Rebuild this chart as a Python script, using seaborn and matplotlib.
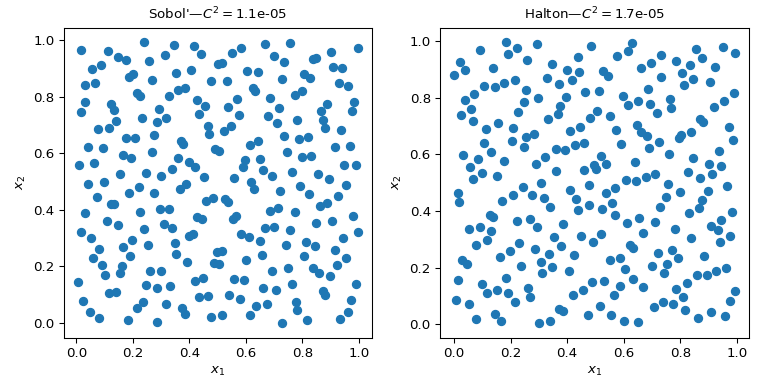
import matplotlib
matplotlib.use("Agg")
import matplotlib.pyplot as plt
import seaborn as sns

# ── Data ──────────────────────────────────────────────────────────────────────
sobol_x = [
    0.015, 0.111, 0.241, 0.312, 0.148, 0.175, 0.258, 0.054, 0.086, 0.185,
    0.202, 0.269, 0.032, 0.065, 0.213, 0.225, 0.029, 0.121, 0.132, 0.018,
    0.293, 0.231, 0.318, 0.140, 0.286, 0.075, 0.114, 0.174, 0.207, 0.276,
    0.040, 0.095, 0.266, 0.164, 0.194, 0.009, 0.061, 0.155, 0.247, 0.301,
    0.041, 0.099, 0.220,
    0.344, 0.415, 0.442, 0.552, 0.584, 0.668, 0.501, 0.515, 0.354, 0.407,
    0.605, 0.644, 0.478, 0.534, 0.326, 0.361, 0.386, 0.624, 0.633, 0.428,
    0.456, 0.538, 0.569, 0.435, 0.576, 0.464, 0.471, 0.524, 0.546, 0.371,
    0.379, 0.615, 0.641, 0.491, 0.504, 0.361, 0.400, 0.421, 0.338, 0.453,
    0.559, 0.596, 0.589, 0.651, 0.661, 0.619, 0.389,
    0.756, 0.996, 0.700, 0.735, 0.901, 0.839, 0.849, 0.907, 0.939, 0.728,
    0.805, 0.827, 0.929, 0.961, 0.686, 0.773, 0.799, 0.887, 0.982, 0.718,
    0.866, 0.975, 0.679, 0.711, 0.781, 0.872, 0.880, 0.936, 0.735, 0.788,
    0.820, 0.915, 0.968, 0.746, 0.799, 0.831, 0.947, 0.989, 0.693, 0.764,
    0.855, 0.894, 0.954, 0.791,
    0.187, 0.276, 0.072, 0.122, 0.133, 0.226, 0.296, 0.032, 0.107, 0.146,
    0.311, 0.241, 0.015, 0.051, 0.198, 0.079, 0.166, 0.255, 0.058, 0.191,
    0.089, 0.160, 0.153, 0.100, 0.261, 0.301, 0.005, 0.248, 0.287, 0.116,
    0.141, 0.022, 0.234, 0.213, 0.318, 0.047, 0.080, 0.181, 0.284,
    0.368, 0.627, 0.460, 0.485, 0.526, 0.535, 0.326, 0.428, 0.444, 0.553,
    0.566, 0.340, 0.400, 0.412, 0.584, 0.612, 0.669, 0.348, 0.354, 0.651,
    0.658, 0.393, 0.496, 0.516, 0.488, 0.506, 0.601, 0.418, 0.449, 0.559,
    0.593, 0.333, 0.435, 0.467, 0.541, 0.578, 0.660, 0.375, 0.384, 0.478,
    0.516, 0.613, 0.636,
    0.721, 0.824, 0.926, 0.685, 0.714, 0.772, 0.862, 0.887, 0.700, 0.756,
    0.847, 0.905, 0.979, 0.996, 0.742, 0.813, 0.845, 0.806, 0.915, 0.944,
    0.953, 0.921, 0.693, 0.749, 0.839, 0.859, 0.898, 0.707, 0.764, 0.872,
    0.880, 0.989, 0.971, 0.676, 0.778, 0.781, 0.816, 0.728, 0.934, 0.962,
]
sobol_y = [
    0.967, 0.963, 0.995, 0.949, 0.940, 0.932, 0.927, 0.900, 0.914, 0.871,
    0.880, 0.861, 0.843, 0.848, 0.815, 0.804, 0.783, 0.774, 0.755, 0.745,
    0.758, 0.726, 0.726, 0.713, 0.710, 0.685, 0.691, 0.656, 0.653, 0.666,
    0.624, 0.618, 0.604, 0.594, 0.585, 0.560, 0.567, 0.528, 0.532, 0.519,
    0.491, 0.500, 0.481,
    0.985, 0.981, 0.953, 0.956, 0.974, 0.988, 0.915, 0.921, 0.886, 0.896,
    0.893, 0.889, 0.857, 0.855, 0.802, 0.825, 0.830, 0.833, 0.822, 0.790,
    0.769, 0.765, 0.794, 0.741, 0.737, 0.698, 0.670, 0.678, 0.697, 0.644,
    0.633, 0.630, 0.643, 0.614, 0.610, 0.583, 0.570, 0.551, 0.544, 0.515,
    0.511, 0.575, 0.553, 0.579, 0.540, 0.499, 0.493,
    0.992, 0.974, 0.946, 0.925, 0.960, 0.935, 0.939, 0.907, 0.903, 0.864,
    0.880, 0.868, 0.848, 0.837, 0.797, 0.808, 0.820, 0.776, 0.781, 0.762,
    0.749, 0.749, 0.733, 0.706, 0.719, 0.717, 0.688, 0.682, 0.663, 0.650,
    0.659, 0.621, 0.627, 0.603, 0.588, 0.592, 0.560, 0.558, 0.521, 0.535,
    0.526, 0.508, 0.487, 0.485,
    0.458, 0.461, 0.447, 0.422, 0.419, 0.392, 0.404, 0.388, 0.362, 0.348,
    0.349, 0.331, 0.320, 0.300, 0.295, 0.263, 0.268, 0.277, 0.228, 0.236,
    0.204, 0.200, 0.178, 0.169, 0.185, 0.182, 0.146, 0.133, 0.123, 0.107,
    0.111, 0.078, 0.075, 0.051, 0.066, 0.038, 0.019, 0.009, 0.002,
    0.473, 0.473, 0.433, 0.443, 0.438, 0.428, 0.402, 0.373, 0.366, 0.369,
    0.379, 0.337, 0.308, 0.316, 0.313, 0.305, 0.337, 0.281, 0.245, 0.289,
    0.242, 0.217, 0.252, 0.256, 0.213, 0.210, 0.221, 0.150, 0.160, 0.157,
    0.153, 0.130, 0.090, 0.094, 0.100, 0.086, 0.125, 0.054, 0.033, 0.022,
    0.027, 0.029, 0.058,
    0.466, 0.455, 0.450, 0.397, 0.407, 0.394, 0.414, 0.426, 0.341, 0.327,
    0.355, 0.360, 0.379, 0.323, 0.275, 0.288, 0.271, 0.238, 0.259, 0.302,
    0.228, 0.206, 0.184, 0.193, 0.193, 0.175, 0.167, 0.118, 0.139, 0.114,
    0.100, 0.139, 0.081, 0.068, 0.073, 0.044, 0.009, -0.002, 0.015, 0.040,
]

halton_x = [
    0.092, 0.182, 0.223, 0.189, 0.294, 0.259, 0.022, 0.040, 0.000, 0.139,
    0.107, 0.143, 0.178, 0.214, 0.255, 0.037, 0.072, 0.298, 0.248, 0.061,
    0.026, 0.227, 0.067, 0.112, 0.156, 0.210, 0.104, 0.203, 0.253, 0.281,
    0.246, 0.132, 0.033, 0.083, 0.175, 0.288, 0.057, 0.099, 0.153, 0.065,
    0.242, 0.308,
    0.485, 0.437, 0.577, 0.614, 0.628, 0.345, 0.401, 0.443, 0.527, 0.544,
    0.661, 0.327, 0.370, 0.416, 0.464, 0.511, 0.596, 0.617, 0.649, 0.397,
    0.375, 0.366, 0.331, 0.504, 0.482, 0.550, 0.446, 0.411, 0.574, 0.646,
    0.662, 0.592, 0.460, 0.426, 0.393, 0.359, 0.323, 0.521, 0.538, 0.496,
    0.501, 0.458, 0.639, 0.361, 0.479, 0.571, 0.607, 0.642,
    0.855, 0.950, 0.993, 0.731, 0.695, 0.784, 0.834, 0.878, 0.805, 0.922,
    0.733, 0.847, 0.815, 0.904, 0.685, 0.692, 0.717, 0.763, 0.766, 0.919,
    0.954, 0.989, 0.871, 0.882, 0.681, 0.972, 0.986, 0.725, 0.688, 0.796,
    0.802, 0.837, 0.759, 0.844, 0.936, 0.901, 0.943, 0.678, 0.712, 0.828,
    0.869, 0.914, 0.757, 0.965,
    0.015, 0.018, 0.171, 0.208, 0.274, 0.126, 0.136, 0.054, 0.090, 0.129,
    0.221, 0.270, 0.292, 0.079, 0.115, 0.231, 0.285, 0.028, 0.044, 0.164,
    0.196, 0.235, 0.306, 0.311, 0.012, 0.097, 0.185, 0.118, 0.150, 0.192,
    0.263, 0.005, 0.051, 0.217, 0.267, 0.076, 0.146, 0.166, 0.302,
    0.409, 0.536, 0.319, 0.432, 0.476, 0.560, 0.341, 0.440, 0.524, 0.568,
    0.386, 0.610, 0.655, 0.667, 0.355, 0.450, 0.492, 0.518, 0.379, 0.623,
    0.633, 0.423, 0.334, 0.347, 0.406, 0.553, 0.588, 0.603, 0.632, 0.489,
    0.531, 0.586, 0.668, 0.455, 0.419, 0.564, 0.372, 0.384, 0.473, 0.515,
    0.556, 0.600, 0.652, 0.338,
    0.798, 0.898, 0.749, 0.876, 0.728, 0.830, 0.865, 0.982, 0.710, 0.780,
    0.910, 0.934, 0.946, 0.975, 0.839, 0.940, 0.720, 0.770, 0.791, 0.885,
    0.701, 0.752, 0.744, 0.860, 0.894, 0.927, 0.961, 0.786, 0.823, 0.809,
    0.995, 0.978, 0.706, 0.740, 0.773, 0.818, 0.862, 0.908, 0.959,
]
halton_y = [
    0.970, 0.999, 0.978, 0.956, 0.992, 0.935, 0.927, 0.899, 0.883, 0.907,
    0.843, 0.838, 0.853, 0.864, 0.827, 0.793, 0.814, 0.800, 0.786, 0.760,
    0.740, 0.750, 0.718, 0.690, 0.711, 0.693, 0.640, 0.647, 0.662, 0.672,
    0.626, 0.608, 0.598, 0.583, 0.576, 0.568, 0.555, 0.534, 0.524, 0.512,
    0.485, 0.498,
    0.985, 0.946, 0.949, 0.966, 0.994, 0.921, 0.899, 0.891, 0.897, 0.879,
    0.905, 0.871, 0.850, 0.864, 0.821, 0.825, 0.807, 0.776, 0.789, 0.804,
    0.772, 0.744, 0.725, 0.754, 0.729, 0.736, 0.699, 0.683, 0.688, 0.704,
    0.678, 0.637, 0.640, 0.632, 0.617, 0.620, 0.592, 0.593, 0.566, 0.563,
    0.549, 0.544, 0.574, 0.541, 0.492, 0.483, 0.508, 0.505,
    0.974, 0.982, 0.960, 0.953, 0.924, 0.931, 0.917, 0.942, 0.889, 0.910,
    0.875, 0.867, 0.847, 0.857, 0.832, 0.779, 0.747, 0.796, 0.764, 0.768,
    0.789, 0.818, 0.724, 0.716, 0.666, 0.697, 0.651, 0.644, 0.622, 0.658,
    0.670, 0.680, 0.601, 0.587, 0.612, 0.566, 0.559, 0.521, 0.530, 0.537,
    0.517, 0.530, 0.495, 0.490,
    0.463, 0.431, 0.434, 0.456, 0.456, 0.387, 0.380, 0.335, 0.344, 0.328,
    0.363, 0.370, 0.342, 0.280, 0.299, 0.285, 0.264, 0.228, 0.211, 0.237,
    0.257, 0.207, 0.221, 0.179, 0.157, 0.140, 0.164, 0.109, 0.122, 0.111,
    0.129, 0.086, 0.070, 0.079, 0.097, 0.018, 0.037, 0.009, 0.002,
    0.475, 0.462, 0.445, 0.441, 0.420, 0.428, 0.413, 0.402, 0.406, 0.385,
    0.353, 0.356, 0.376, 0.323, 0.307, 0.312, 0.292, 0.317, 0.275, 0.278,
    0.269, 0.243, 0.249, 0.201, 0.189, 0.225, 0.233, 0.196, 0.161, 0.149,
    0.154, 0.136, 0.131, 0.122, 0.101, 0.104, 0.054, 0.046, 0.031, 0.062,
    0.033, 0.011, 0.006, 0.012,
    0.466, 0.471, 0.451, 0.439, 0.415, 0.393, 0.409, 0.396, 0.361, 0.338,
    0.346, 0.331, 0.367, 0.310, 0.303, 0.290, 0.253, 0.262, 0.232, 0.239,
    0.205, 0.213, 0.181, 0.175, 0.172, 0.186, 0.198, 0.125, 0.146, 0.095,
    0.118, 0.082, 0.059, 0.077, 0.072, 0.050, 0.022, 0.044, 0.027,
]

titles = ["Sobol'", "Halton"]
discrepancies = ["1.1e-05", "1.7e-05"]
samples = [(sobol_x, sobol_y), (halton_x, halton_y)]

# ── Plot ──────────────────────────────────────────────────────────────────────
fig, axs = plt.subplots(1, 2, figsize=(8, 4), dpi=96)
fig.subplots_adjust(left=0.082, right=0.976, top=0.928, bottom=0.121, wspace=0.217)

for ax, name, disc, (xs, ys) in zip(axs, titles, discrepancies, samples):
    sns.scatterplot(x=xs, y=ys, ax=ax, color="#1f77b4", s=36,
                    edgecolor="#1f77b4", linewidth=1)
    ax.set_aspect("equal")
    ax.set_xticks([0.0, 0.2, 0.4, 0.6, 0.8, 1.0])
    ax.set_yticks([0.0, 0.2, 0.4, 0.6, 0.8, 1.0])
    ax.set_xlabel(r"$x_1$")
    ax.set_ylabel(r"$x_2$")
    ax.set_title(f"{name}—$C^2 = ${disc}", fontsize=10)

plt.savefig("out.png", dpi=96)
plt.close()
